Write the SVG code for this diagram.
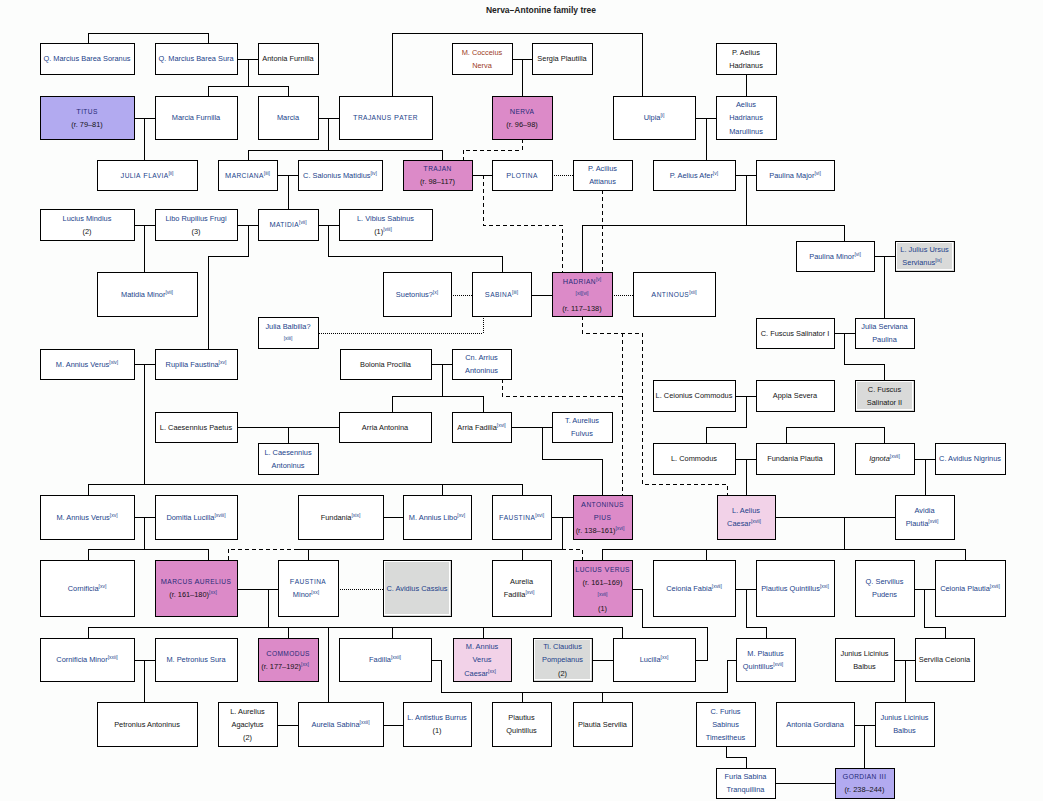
<svg xmlns="http://www.w3.org/2000/svg" width="1043" height="801" viewBox="0 0 1043 801">
<style>
rect{shape-rendering:crispEdges}
.bx{fill:#fff;stroke:#000;stroke-width:1}
.emp{fill:#dc8ac8}
.lav{fill:#b2aaf0}
.lp{fill:#f2d2e8}
.gr{fill:#d9dad9}
.in{fill:none;stroke:#fff;stroke-width:1}
text{font-family:"Liberation Sans",Arial,sans-serif;font-size:7.4px;text-anchor:middle;fill:#223f8a}
.k{fill:#141414}
.sc{letter-spacing:0.4px}
.u{font-size:6.6px}
.e{fill:#262a78}
.r{fill:#9c3b1f}
.i{font-style:italic}
.s{font-size:5px;fill:#223f8a;font-style:normal;letter-spacing:0}
.title{font-size:8.5px;font-weight:bold;fill:#222}
.c path{fill:none;stroke:#000;stroke-width:1;shape-rendering:crispEdges}
.c .d{stroke-dasharray:4 3}
.c .o{stroke-dasharray:1 1}
</style>
<rect x="0" y="0" width="1043" height="801" fill="#fcfdfc"/>
<text class="title" x="541" y="12.5">Nerva–Antonine family tree</text>

<g id="connectors" class="c">
<path d="M88 43V33H208V43"/>
<path d="M237 59H258M248 59V86M208 96V86H288V96"/>
<path d="M392 96V33H642V96"/>
<path d="M512 59H532M522 59V96"/>
<path d="M746 74V96"/>
<path d="M134 118H155M144 118V160"/>
<path d="M318 118H339M328 118V150M248 160V150H442V160"/>
<path d="M695 118H716M706 118V160"/>
<path d="M277 175H298M288 175V209"/>
<path d="M472 175H492"/>
<path d="M735 175H756M746 175V225M582 272V225H844V241"/>
<path d="M134 225H155M144 225V272"/>
<path d="M237 225H258M248 225V256H208V349"/>
<path d="M318 225H339M328 225V256H502V272"/>
<path d="M531 295H552"/>
<path d="M874 256H895M884 256V318"/>
<path d="M834 333H855M844 333V364H884V380"/>
<path d="M134 364H155M144 364V484M88 495V484H522V495M442 484V495"/>
<path d="M431 364H452M442 364V396M392 412V396H483V412"/>
<path d="M735 396H756M746 396V427H706V443"/>
<path d="M786 443V427H884V443"/>
<path d="M237 427H339M288 427V443"/>
<path d="M511 427H552M542 427V459H602V495"/>
<path d="M735 459H756M746 459V495"/>
<path d="M914 459H935M925 459V495"/>
<path d="M134 517H155M144 517V549M88 560V549H208V560"/>
<path d="M383 517H403"/>
<path d="M551 517H573M562 517V549M297 549H562M308 549V560M522 549V560"/>
<path d="M775 517H895M844 517V549M602 560V549H965V560M706 549V560"/>
<path d="M237 589H278M268 589V627M88 638V627H622V638M288 627V638M328 627V702M392 627V638M483 627V638"/>
<path d="M632 589H642V627H707V660H695"/>
<path d="M735 589H756M746 589V627H766V638"/>
<path d="M914 589H935M924 589V627H945V638"/>
<path d="M134 660H155M144 660V702"/>
<path d="M592 660H613"/>
<path d="M431 660H441V692H727V660H736M522 692V702M602 692V702"/>
<path d="M894 660H915M905 660V702"/>
<path d="M277 725H298M383 725H403"/>
<path d="M854 725H875M864 725V768"/>
<path d="M726 746V757H746V768"/>
<path d="M775 783H835"/>
<path class="d" d="M522 139V150H463V160"/>
<path class="d" d="M483 175V225H562V272"/>
<path class="d" d="M602 190V272"/>
<path class="d" d="M582 316V333H642V484H727V495"/>
<path class="d" d="M622 333V495"/>
<path class="d" d="M502 379V396H622"/>
<path class="d" d="M228 560V549H297"/>
<path class="d" d="M562 549H582V560"/>
<path class="o" d="M451 295H472"/>
<path class="o" d="M612 295H633"/>
<path class="o" d="M552 175H573"/>
<path class="o" d="M483 316V333H318"/>
<path class="o" d="M338 589H383"/>
</g>

<g id="soranus"><rect class="bx" x="40" y="43" width="94" height="31"/><text x="87" y="61.1">Q. Marcius Barea Soranus</text></g>
<g id="sura"><rect class="bx" x="155" y="43" width="82" height="31"/><text x="196" y="61.1">Q. Marcius Barea Sura</text></g>
<g id="antonia-furnilla"><rect class="bx" x="258" y="43" width="60" height="31"/><text class="k" x="288" y="61.1">Antonia Furnilla</text></g>
<g id="cocceius"><rect class="bx" x="452" y="43" width="60" height="31"/><text class="r" x="482" y="54.6">M. Cocceius<tspan x="482" y="67.6">Nerva</tspan></text></g>
<g id="sergia"><rect class="bx" x="532" y="43" width="60" height="31"/><text class="k" x="562" y="61.1">Sergia Plautilla</text></g>
<g id="p-aelius-hadrianus"><rect class="bx" x="716" y="43" width="60" height="31"/><text class="k" x="746" y="54.6">P. Aelius<tspan x="746" y="67.6">Hadrianus</tspan></text></g>

<g id="titus"><rect class="bx lav" x="40" y="96" width="94" height="43"/><text x="87" y="113.6"><tspan class="sc e">T<tspan class="u">ITUS</tspan></tspan><tspan class="k" x="87" y="126.6">(r. 79–81)</tspan></text></g>
<g id="marcia-furnilla"><rect class="bx" x="155" y="96" width="82" height="43"/><text x="196" y="120.1">Marcia Furnilla</text></g>
<g id="marcia"><rect class="bx" x="258" y="96" width="60" height="43"/><text x="288" y="120.1">Marcia</text></g>
<g id="trajanus-pater"><rect class="bx" x="339" y="96" width="93" height="43"/><text class="sc" x="385.5" y="120.1">T<tspan class="u">RAJANUS</tspan> P<tspan class="u">ATER</tspan></text></g>
<g id="nerva"><rect class="bx emp" x="492" y="96" width="60" height="43"/><text x="522" y="113.6"><tspan class="sc e">N<tspan class="u">ERVA</tspan></tspan><tspan class="k" x="522" y="126.6">(r. 96–98)</tspan></text></g>
<g id="ulpia"><rect class="bx" x="613" y="96" width="82" height="43"/><text x="654" y="120.1">Ulpia<tspan class="s" dy="-2.8">[i]</tspan></text></g>
<g id="marullinus"><rect class="bx" x="716" y="96" width="60" height="43"/><text x="746" y="106.6">Aelius<tspan x="746" y="120.1">Hadrianus</tspan><tspan x="746" y="133.6">Marullinus</tspan></text></g>

<g id="julia-flavia"><rect class="bx" x="97" y="160" width="100" height="30"/><text x="147" y="177.6"><tspan class="sc">J<tspan class="u">ULIA</tspan> F<tspan class="u">LAVIA</tspan></tspan><tspan class="s" dy="-2.8">[ii]</tspan></text></g>
<g id="marciana"><rect class="bx" x="218" y="160" width="59" height="30"/><text x="247.5" y="177.6"><tspan class="sc">M<tspan class="u">ARCIANA</tspan></tspan><tspan class="s" dy="-2.8">[iii]</tspan></text></g>
<g id="salonius"><rect class="bx" x="298" y="160" width="84" height="30"/><text x="340" y="177.6">C. Salonius Matidius<tspan class="s" dy="-2.8">[iv]</tspan></text></g>
<g id="trajan"><rect class="bx emp" x="403" y="160" width="69" height="30"/><text x="437.5" y="171.1"><tspan class="sc e">T<tspan class="u">RAJAN</tspan></tspan><tspan class="k" x="437.5" y="184.1">(r. 98–117)</tspan></text></g>
<g id="plotina"><rect class="bx" x="492" y="160" width="60" height="30"/><text class="sc" x="522" y="177.6">P<tspan class="u">LOTINA</tspan></text></g>
<g id="attianus"><rect class="bx" x="573" y="160" width="59" height="30"/><text x="602.5" y="171.1">P. Acilius<tspan x="602.5" y="184.1">Attianus</tspan></text></g>
<g id="afer"><rect class="bx" x="653" y="160" width="82" height="30"/><text x="694" y="177.6">P. Aelius Afer<tspan class="s" dy="-2.8">[v]</tspan></text></g>
<g id="paulina-major"><rect class="bx" x="756" y="160" width="78" height="30"/><text x="795" y="177.6">Paulina Major<tspan class="s" dy="-2.8">[vi]</tspan></text></g>

<g id="mindius"><rect class="bx" x="40" y="209" width="94" height="31"/><text x="87" y="220.6">Lucius Mindius<tspan class="k" x="87" y="233.6">(2)</tspan></text></g>
<g id="libo"><rect class="bx" x="155" y="209" width="82" height="31"/><text x="196" y="220.6">Libo Rupilius Frugi<tspan class="k" x="196" y="233.6">(3)</tspan></text></g>
<g id="matidia"><rect class="bx" x="258" y="209" width="60" height="31"/><text x="288" y="227.1"><tspan class="sc">M<tspan class="u">ATIDIA</tspan></tspan><tspan class="s" dy="-2.8">[vii]</tspan></text></g>
<g id="vibius"><rect class="bx" x="339" y="209" width="93" height="31"/><text x="385.5" y="220.6">L. Vibius Sabinus<tspan class="k" x="383" y="233.6">(1)</tspan><tspan class="s" dy="-2.8">[viii]</tspan></text></g>

<g id="paulina-minor"><rect class="bx" x="796" y="241" width="78" height="30"/><text x="835" y="258.6">Paulina Minor<tspan class="s" dy="-2.8">[vi]</tspan></text></g>
<g id="ursus"><rect class="bx gr" x="895" y="241" width="59" height="30"/><rect class="in" x="896.5" y="242.5" width="56" height="27"/><text x="924.5" y="252.1">L. Julius Ursus<tspan x="922" y="265.1">Servianus</tspan><tspan class="s" dy="-2.8">[ix]</tspan></text></g>

<g id="matidia-minor"><rect class="bx" x="97" y="272" width="100" height="44"/><text x="147" y="296.6">Matidia Minor<tspan class="s" dy="-2.8">[vii]</tspan></text></g>
<g id="suetonius"><rect class="bx" x="383" y="272" width="68" height="44"/><text x="417" y="296.6">Suetonius?<tspan class="s" dy="-2.8">[x]</tspan></text></g>
<g id="sabina"><rect class="bx" x="472" y="272" width="59" height="44"/><text x="501.5" y="296.6"><tspan class="sc">S<tspan class="u">ABINA</tspan></tspan><tspan class="s" dy="-2.8">[iii]</tspan></text></g>
<g id="hadrian"><rect class="bx emp" x="552" y="272" width="60" height="44"/><text x="582" y="283.6"><tspan class="sc e">H<tspan class="u">ADRIAN</tspan></tspan><tspan class="s" dy="-2.8">[v]</tspan><tspan class="s" x="582" y="294.6">[xi][vi]</tspan><tspan class="k" x="582" y="310.6">(r. 117–138)</tspan></text></g>
<g id="antinous"><rect class="bx" x="633" y="272" width="82" height="44"/><text x="674" y="296.6"><tspan class="sc">A<tspan class="u">NTINOUS</tspan></tspan><tspan class="s" dy="-2.8">[xii]</tspan></text></g>

<g id="julia-balbilla"><rect class="bx" x="258" y="317" width="60" height="31"/><text x="288" y="328.6">Julia Balbilla?<tspan class="s" x="288" y="339.5">[xiii]</tspan></text></g>
<g id="fuscus1"><rect class="bx" x="756" y="318" width="78" height="30"/><text class="k" x="795" y="335.6">C. Fuscus Salinator I</text></g>
<g id="serviana"><rect class="bx" x="855" y="318" width="59" height="30"/><text x="884.5" y="329.1">Julia Serviana<tspan x="884.5" y="342.1">Paulina</tspan></text></g>

<g id="annius-verus-xiv"><rect class="bx" x="40" y="349" width="94" height="30"/><text x="87" y="366.6">M. Annius Verus<tspan class="s" dy="-2.8">[xiv]</tspan></text></g>
<g id="rupilia"><rect class="bx" x="155" y="349" width="82" height="30"/><text x="196" y="366.6">Rupilia Faustina<tspan class="s" dy="-2.8">[xv]</tspan></text></g>
<g id="bolonia"><rect class="bx" x="340" y="349" width="91" height="30"/><text class="k" x="385.5" y="366.6">Bolonia Procilla</text></g>
<g id="arrius"><rect class="bx" x="452" y="349" width="59" height="30"/><text x="481.5" y="360.1">Cn. Arrius<tspan x="481.5" y="373.1">Antoninus</tspan></text></g>

<g id="fuscus2"><rect class="bx gr" x="855" y="380" width="59" height="31"/><rect class="in" x="856.5" y="381.5" width="56" height="28"/><text class="k" x="884.5" y="391.6">C. Fuscus<tspan x="884.5" y="404.6">Salinator II</tspan></text></g>
<g id="ceionius"><rect class="bx" x="653" y="380" width="82" height="31"/><text class="k" x="694" y="398.1">L. Ceionius Commodus</text></g>
<g id="appia"><rect class="bx" x="756" y="380" width="78" height="31"/><text class="k" x="795" y="398.1">Appia Severa</text></g>

<g id="paetus"><rect class="bx" x="155" y="412" width="82" height="30"/><text class="k" x="196" y="429.6">L. Caesennius Paetus</text></g>
<g id="arria-antonina"><rect class="bx" x="339" y="412" width="92" height="30"/><text class="k" x="385" y="429.6">Arria Antonina</text></g>
<g id="arria-fadilla"><rect class="bx" x="452" y="412" width="59" height="30"/><text class="k" x="481.5" y="429.6">Arria Fadilla<tspan class="s" dy="-2.8">[xvi]</tspan></text></g>
<g id="fulvus"><rect class="bx" x="552" y="412" width="60" height="30"/><text x="582" y="423.1">T. Aurelius<tspan x="582" y="436.1">Fulvus</tspan></text></g>

<g id="caesennius-antoninus"><rect class="bx" x="258" y="443" width="60" height="31"/><text x="288" y="454.6">L. Caesennius<tspan x="288" y="467.6">Antoninus</tspan></text></g>
<g id="l-commodus"><rect class="bx" x="653" y="443" width="82" height="31"/><text class="k" x="694" y="461.1">L. Commodus</text></g>
<g id="fundania-plautia"><rect class="bx" x="756" y="443" width="78" height="31"/><text class="k" x="795" y="461.1">Fundania Plautia</text></g>
<g id="ignota"><rect class="bx" x="855" y="443" width="59" height="31"/><text class="k" x="884.5" y="461.1"><tspan class="i">Ignota</tspan><tspan class="s" dy="-2.8">[xvii]</tspan></text></g>
<g id="nigrinus"><rect class="bx" x="935" y="443" width="70" height="31"/><text x="970" y="461.1">C. Avidius Nigrinus</text></g>

<g id="annius-verus-xv"><rect class="bx" x="40" y="495" width="94" height="44"/><text x="87" y="519.6">M. Annius Verus<tspan class="s" dy="-2.8">[xv]</tspan></text></g>
<g id="domitia"><rect class="bx" x="155" y="495" width="82" height="44"/><text x="196" y="519.6">Domitia Lucilla<tspan class="s" dy="-2.8">[xviii]</tspan></text></g>
<g id="fundania"><rect class="bx" x="298" y="495" width="85" height="44"/><text class="k" x="340.5" y="519.6">Fundania<tspan class="s" dy="-2.8">[xix]</tspan></text></g>
<g id="annius-libo"><rect class="bx" x="403" y="495" width="68" height="44"/><text x="437" y="519.6">M. Annius Libo<tspan class="s" dy="-2.8">[xv]</tspan></text></g>
<g id="faustina"><rect class="bx" x="492" y="495" width="59" height="44"/><text x="521.5" y="519.6"><tspan class="sc">F<tspan class="u">AUSTINA</tspan></tspan><tspan class="s" dy="-2.8">[xvi]</tspan></text></g>
<g id="antoninus-pius"><rect class="bx emp" x="573" y="495" width="59" height="44"/><text x="602.5" y="506.6"><tspan class="sc e">A<tspan class="u">NTONINUS</tspan></tspan><tspan class="sc e" x="602.5" y="519.6">P<tspan class="u">IUS</tspan></tspan><tspan class="k" x="600" y="532.6">(r. 138–161)</tspan><tspan class="s" dy="-2.8">[xvi]</tspan></text></g>
<g id="aelius-caesar"><rect class="bx lp" x="717" y="495" width="58" height="44"/><text x="746" y="513.1">L. Aelius<tspan x="744" y="526.1">Caesar</tspan><tspan class="s" dy="-2.8">[xvii]</tspan></text></g>
<g id="avidia"><rect class="bx" x="895" y="495" width="59" height="44"/><text x="924.5" y="513.1">Avidia<tspan x="922" y="526.1">Plautia</tspan><tspan class="s" dy="-2.8">[xvii]</tspan></text></g>

<g id="cornificia"><rect class="bx" x="40" y="560" width="94" height="56"/><text x="87" y="590.6">Cornificia<tspan class="s" dy="-2.8">[xv]</tspan></text></g>
<g id="marcus-aurelius"><rect class="bx emp" x="155" y="560" width="82" height="56"/><text x="196" y="584.1"><tspan class="sc e">M<tspan class="u">ARCUS</tspan> A<tspan class="u">URELIUS</tspan></tspan><tspan class="k" x="193" y="597.1">(r. 161–180)</tspan><tspan class="s" dy="-2.8">[xx]</tspan></text></g>
<g id="faustina-minor"><rect class="bx" x="278" y="560" width="60" height="56"/><text x="308" y="584.1"><tspan class="sc">F<tspan class="u">AUSTINA</tspan></tspan><tspan x="306" y="597.1">Minor</tspan><tspan class="s" dy="-2.8">[xx]</tspan></text></g>
<g id="cassius"><rect class="bx gr" x="383" y="560" width="68" height="56"/><rect class="in" x="384.5" y="561.5" width="65" height="53"/><text x="417" y="590.6">C. Avidius Cassius</text></g>
<g id="aurelia-fadilla"><rect class="bx" x="492" y="560" width="59" height="56"/><text class="k" x="521.5" y="584.1">Aurelia<tspan x="519" y="597.1">Fadilla</tspan><tspan class="s" dy="-2.8">[xvi]</tspan></text></g>
<g id="lucius-verus"><rect class="bx emp" x="573" y="560" width="59" height="56"/><text x="602.5" y="571.6"><tspan class="sc e">L<tspan class="u">UCIUS</tspan> V<tspan class="u">ERUS</tspan></tspan><tspan class="k" x="602.5" y="584.6">(r. 161–169)</tspan><tspan class="s" x="602.5" y="595.6">[xvii]</tspan><tspan class="k" x="602.5" y="610.6">(1)</tspan></text></g>
<g id="ceionia-fabia"><rect class="bx" x="653" y="560" width="82" height="56"/><text x="694" y="590.6">Ceionia Fabia<tspan class="s" dy="-2.8">[xvii]</tspan></text></g>
<g id="plautius-xxi"><rect class="bx" x="756" y="560" width="78" height="56"/><text x="795" y="590.6">Plautius Quintillus<tspan class="s" dy="-2.8">[xxi]</tspan></text></g>
<g id="pudens"><rect class="bx" x="855" y="560" width="59" height="56"/><text x="884.5" y="584.1">Q. Servilius<tspan x="884.5" y="597.1">Pudens</tspan></text></g>
<g id="ceionia-plautia"><rect class="bx" x="935" y="560" width="70" height="56"/><text x="970" y="590.6">Ceionia Plautia<tspan class="s" dy="-2.8">[xvii]</tspan></text></g>

<g id="cornificia-minor"><rect class="bx" x="40" y="638" width="94" height="43"/><text x="87" y="662.1">Cornificia Minor<tspan class="s" dy="-2.8">[xxii]</tspan></text></g>
<g id="petronius-sura"><rect class="bx" x="155" y="638" width="82" height="43"/><text x="196" y="662.1">M. Petronius Sura</text></g>
<g id="commodus"><rect class="bx emp" x="258" y="638" width="60" height="43"/><text x="288" y="655.6"><tspan class="sc e">C<tspan class="u">OMMODUS</tspan></tspan><tspan class="k" x="285" y="668.6">(r. 177–192)</tspan><tspan class="s" dy="-2.8">[xx]</tspan></text></g>
<g id="fadilla"><rect class="bx" x="339" y="638" width="92" height="43"/><text x="385" y="662.1">Fadilla<tspan class="s" dy="-2.8">[xxii]</tspan></text></g>
<g id="verus-caesar"><rect class="bx lp" x="453" y="638" width="58" height="43"/><text x="482" y="649.1">M. Annius<tspan x="482" y="662.3">Verus</tspan><tspan x="480" y="675.5">Caesar</tspan><tspan class="s" dy="-2.8">[xx]</tspan></text></g>
<g id="pompeianus"><rect class="bx gr" x="533" y="638" width="59" height="43"/><rect class="in" x="534.5" y="639.5" width="56" height="40"/><text x="562.5" y="649.1">Ti. Claudius<tspan x="562.5" y="662.3">Pompeianus</tspan><tspan class="k" x="562.5" y="675.5">(2)</tspan></text></g>
<g id="lucilla"><rect class="bx" x="613" y="638" width="82" height="43"/><text x="654" y="662.1">Lucilla<tspan class="s" dy="-2.8">[xx]</tspan></text></g>
<g id="m-plautius"><rect class="bx" x="736" y="638" width="59" height="43"/><text x="765.5" y="655.6">M. Plautius<tspan x="763" y="668.6">Quintillus</tspan><tspan class="s" dy="-2.8">[xvii]</tspan></text></g>
<g id="balbus1"><rect class="bx" x="835" y="638" width="59" height="43"/><text class="k" x="864.5" y="655.6">Junius Licinius<tspan x="864.5" y="668.6">Balbus</tspan></text></g>
<g id="servilia"><rect class="bx" x="915" y="638" width="59" height="43"/><text class="k" x="944.5" y="662.1">Servilia Ceionia</text></g>

<g id="petronius-antoninus"><rect class="bx" x="97" y="702" width="100" height="44"/><text class="k" x="147" y="726.6">Petronius Antoninus</text></g>
<g id="agaclytus"><rect class="bx" x="218" y="702" width="59" height="44"/><text class="k" x="247.5" y="713.6">L. Aurelius<tspan x="247.5" y="727">Agaclytus</tspan><tspan x="247.5" y="740.4">(2)</tspan></text></g>
<g id="aurelia-sabina"><rect class="bx" x="298" y="702" width="85" height="44"/><text x="340.5" y="726.6">Aurelia Sabina<tspan class="s" dy="-2.8">[xxii]</tspan></text></g>
<g id="burrus"><rect class="bx" x="403" y="702" width="68" height="44"/><text x="437" y="720.1">L. Antistius Burrus<tspan class="k" x="437" y="733.1">(1)</tspan></text></g>
<g id="plautius-quintillus"><rect class="bx" x="492" y="702" width="59" height="44"/><text class="k" x="521.5" y="720.1">Plautius<tspan x="521.5" y="733.1">Quintillus</tspan></text></g>
<g id="plautia-servilia"><rect class="bx" x="573" y="702" width="59" height="44"/><text class="k" x="602.5" y="726.6">Plautia Servilia</text></g>
<g id="timesitheus"><rect class="bx" x="696" y="702" width="59" height="44"/><text x="725.5" y="713.6">C. Furius<tspan x="725.5" y="727">Sabinus</tspan><tspan x="725.5" y="740.4">Timesitheus</tspan></text></g>
<g id="gordiana"><rect class="bx" x="776" y="702" width="78" height="44"/><text x="815" y="726.6">Antonia Gordiana</text></g>
<g id="balbus2"><rect class="bx" x="875" y="702" width="59" height="44"/><text x="904.5" y="720.1">Junius Licinius<tspan x="904.5" y="733.1">Balbus</tspan></text></g>

<g id="tranquillina"><rect class="bx" x="716" y="768" width="59" height="30"/><text x="745.5" y="779.1">Furia Sabina<tspan x="745.5" y="792.1">Tranquillina</tspan></text></g>
<g id="gordian"><rect class="bx lav" x="835" y="768" width="59" height="30"/><text x="864.5" y="779.1"><tspan class="sc e">G<tspan class="u">ORDIAN</tspan> III</tspan><tspan class="k" x="864.5" y="792.1">(r. 238–244)</tspan></text></g>
</svg>
